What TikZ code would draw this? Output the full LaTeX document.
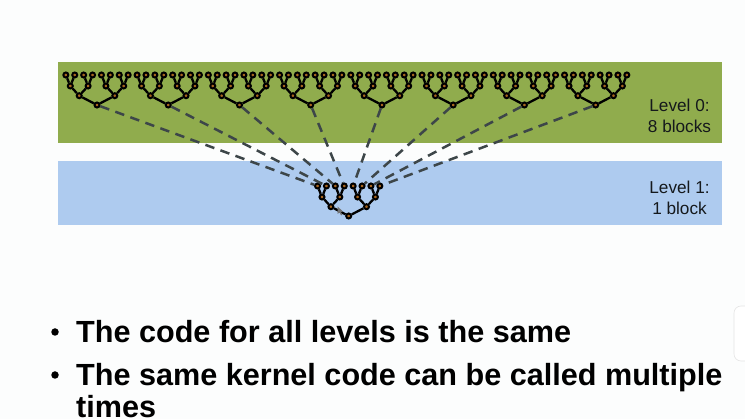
\documentclass[tikz,border=0pt]{standalone}
\usepackage{fontspec}
\setmainfont{Liberation Sans}
\definecolor{pagebg}{HTML}{FCFDFD}
\definecolor{bandgreen}{HTML}{90AC4D}
\definecolor{bandblue}{HTML}{AECBEF}
\definecolor{dashgrey}{HTML}{3D4649}
\definecolor{nodefill}{HTML}{A8651F}
\definecolor{inktext}{HTML}{15191C}
\tikzset{
  x=1pt,y=-1pt,
  treenode/.style={circle,draw=black,line width=2pt,fill=nodefill,inner sep=0,minimum size=5pt},
  treeedge/.style={draw=black,line width=2.3pt},
  calldash/.style={draw=dashgrey,line width=2.5pt,dash pattern=on 9.5pt off 6.5pt},
  levellabel/.style={align=center,font=\fontsize{17.2}{21}\selectfont,text=inktext},
  bullettext/.style={anchor=base west,font=\bfseries\fontsize{30.6}{30.6}\selectfont,text=black,inner sep=0},
  bulletdot/.style={circle,fill=black,inner sep=0,minimum size=7.5pt},
}
\newcommand{\maketree}[3]{% name, root x, root y
  \node[treenode] (#1r) at (#2,#3) {};
  \foreach \a/\s in {0/-1,1/1}{
    \node[treenode] (#1a\a) at (#2+\s*17.8,#3-9.3) {};
    \draw[treeedge] (#1r) -- (#1a\a);
    \foreach \b/\u in {0/-1,1/1}{
      \pgfmathtruncatemacro{\bi}{2*\a+\b}
      \node[treenode] (#1b\bi) at (#2+\s*17.8+\u*8.9,#3-19) {};
      \draw[treeedge] (#1a\a) -- (#1b\bi);
      \foreach \c/\v in {0/-1,1/1}{
        \pgfmathtruncatemacro{\ci}{2*\bi+\c}
        \node[treenode] (#1c\ci) at (#2+\s*17.8+\u*8.9+\v*4.45,#3-30) {};
        \draw[treeedge] (#1b\bi) -- (#1c\ci);
      }
    }
  }
}
\begin{document}
\begin{tikzpicture}
\useasboundingbox (0,0) rectangle (745,419);
\fill[pagebg] (0,0) rectangle (745,419);
\fill[bandgreen] (58,62) rectangle (722,143);
\fill[bandblue] (58,161) rectangle (722,225);
\node[levellabel] (l0) at (679.5,116) {Level 0:\\8 blocks};
\node[levellabel] (l1) at (679.5,198) {Level 1:\\1 block};
\maketree{B}{348.7}{216}
\foreach \k in {0,...,7}{
  \pgfmathsetmacro{\rx}{97+71.24*\k}
  \maketree{T\k}{\rx}{105}
  \draw[calldash] (T\k r) -- (Bc\k);
}
\path[fill=white,draw=black!10,line width=.6pt,rounded corners=7pt] (750,306) -- (734,306) -- (734,361) -- (750,361);
\fill[black!55] (337.5,206.5) -- (337.5,214) -- (339.5,212.5) -- (341,215.5) -- (342.3,214.8) -- (341,212) -- (343,211.5) -- cycle;
\node[bulletdot] (d1) at (55,332) {};
\node[bullettext] (t1) at (76,342.5) {The code for all levels is the same};
\node[bulletdot] (d2) at (55,375) {};
\node[bullettext] (t2) at (76,385.5) {The same kernel code can be called multiple};
\node[bullettext] (t3) at (76,418) {times};
\end{tikzpicture}
\end{document}
